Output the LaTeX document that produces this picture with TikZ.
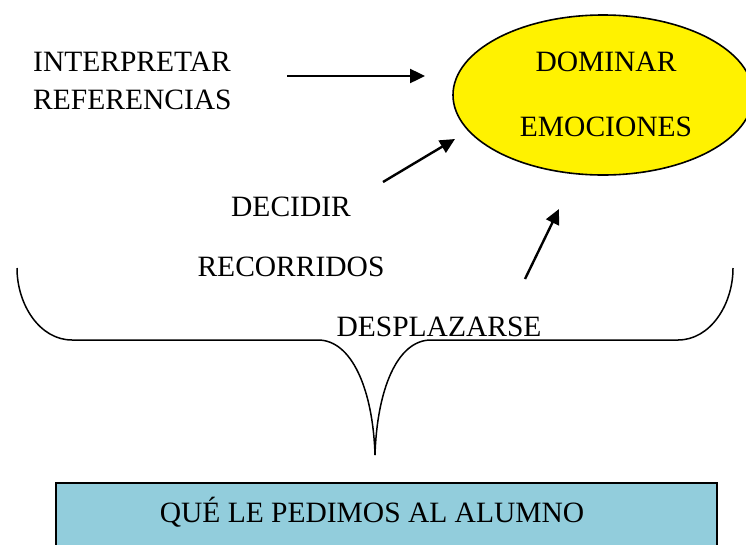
\documentclass[tikz,border=0pt]{standalone}
\usepackage{fontspec}
\setmainfont{Liberation Serif}
\usetikzlibrary{arrows.meta,shapes.geometric}
\definecolor{boxblue}{RGB}{146,205,220}
\begin{document}
\begin{tikzpicture}[x=1pt,y=-1pt,
  lbl/.style={inner sep=0pt,font=\fontsize{29.5}{31}\selectfont},
  arr/.style={line width=2.4pt,-{Triangle[length=15pt,width=14pt]}},
  bracestyle/.style={line width=1.5pt}]
\useasboundingbox (0,0) rectangle (746,544);
\clip (0,0) rectangle (746,544);
% box
\node[draw,line width=1.6pt,fill=boxblue,minimum width=661pt,minimum height=90pt,anchor=north west,inner sep=0pt] (box) at (55,482) {};
\node[lbl] (boxtxt) at (372,512) {QUÉ LE PEDIMOS AL ALUMNO};
% ellipse
\node[draw,line width=1.6pt,fill=yellow,ellipse,minimum width=300pt,minimum height=160pt,inner sep=0pt] (emo) at (603,95) {};
\node[lbl] (dom) at (606,62) {DOMINAR};
\node[lbl] (emoc) at (606,127) {EMOCIONES};
% texts
\node[lbl,anchor=west] (interp) at (33,62) {INTERPRETAR};
\node[lbl,anchor=west] (refer) at (33,100) {REFERENCIAS};
\node[lbl] (dec) at (291,207) {DECIDIR};
\node[lbl] (rec) at (291,267) {RECORRIDOS};
\node[lbl] (desp) at (439,327) {DESPLAZARSE};
% arrow coordinates
\coordinate (a1s) at (287,76);
\coordinate (a1e) at (425,76);
\coordinate (a2s) at (383,182);
\coordinate (a2e) at (455,139);
\coordinate (a3s) at (525,279);
\coordinate (a3e) at (559,209);
\draw[arr] (a1s) -- (a1e);
\draw[arr] (a2s) -- (a2e);
\draw[arr] (a3s) -- (a3e);
% brace
\coordinate (bl) at (17,268);
\coordinate (br) at (733,268);
\coordinate (tip) at (375,455);
\draw[bracestyle] (bl) .. controls (17,305) and (40,340) .. (72,340) -- (318,340)
  .. controls (352,340) and (373,390) .. (tip);
\draw[bracestyle] (br) .. controls (733,305) and (710,340) .. (678,340) -- (431,340)
  .. controls (397,340) and (377,390) .. (tip);
\end{tikzpicture}
\end{document}
